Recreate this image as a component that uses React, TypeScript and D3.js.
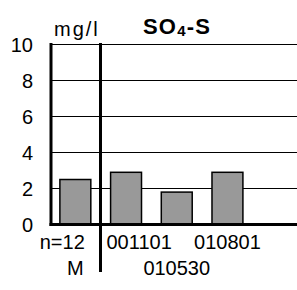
import React from "react";
import * as d3 from "d3";

// values
const categories = ["M", "001101", "010530", "010801", ""];
const values = [2.5, 2.9, 1.8, 2.9];
const labelsTop = ["n=12", "001101", "", "010801"];
const labelsBottom = ["M", "", "010530", ""];
const yTicks = [0, 2, 4, 6, 8, 10];

const W = 297;
const H = 290;

const App = () => {
  const y = d3.scaleLinear().domain([0, 10]).range([224.5, 44.5]);
  const x = d3
    .scaleBand<string>()
    .domain(categories)
    .range([50, 303.5])
    .paddingInner(0.39)
    .paddingOuter(0.195);

  const axisX = 51;
  const dividerX = 100.5;
  const font = "'Liberation Sans', Arial, sans-serif";

  const labelPos = (i: number) => {
    const c = (x(categories[i]) as number) + x.bandwidth() / 2;
    if (i === 0) return { x: (x(categories[i]) as number) + x.bandwidth() - 6, anchor: "end" };
    if (c - 34 < dividerX + 6) return { x: dividerX + 6, anchor: "start" };
    return { x: c, anchor: "middle" };
  };

  return (
    <svg
      width={W}
      height={H}
      style={{ position: "absolute", left: 0, top: 0, background: "#fff" }}
      fontFamily={font}
    >
      {/* grid */}
      {yTicks
        .filter((t) => t > 0)
        .map((t) => (
          <line key={t} x1={axisX} x2={W} y1={y(t)} y2={y(t)} stroke="#000" strokeWidth={1} />
        ))}
      {/* y tick labels */}
      {yTicks.map((t) => (
        <text key={t} x={33} y={y(t)} dy="0.36em" textAnchor="end" fontSize={20} fill="#000">
          {t}
        </text>
      ))}
      {/* bars */}
      {values.map((v, i) => (
        <rect
          key={i}
          x={x(categories[i])}
          y={y(v)}
          width={x.bandwidth()}
          height={y(0) - y(v)}
          fill="#999999"
          stroke="#000"
          strokeWidth={1.5}
        />
      ))}
      {/* axes */}
      <line x1={axisX} x2={axisX} y1={43} y2={226} stroke="#000" strokeWidth={3} />
      <line x1={axisX - 1.5} x2={W} y1={y(0)} y2={y(0)} stroke="#000" strokeWidth={3} />
      <line x1={dividerX} x2={dividerX} y1={43} y2={272} stroke="#000" strokeWidth={3} />
      {/* x labels */}
      {labelsTop.map((l, i) => {
        const p = labelPos(i);
        return (
          <text key={"t" + i} x={p.x} y={248.5} textAnchor={p.anchor} fontSize={20}>
            {l}
          </text>
        );
      })}
      {labelsBottom.map((l, i) => {
        const c = (x(categories[i]) as number) + x.bandwidth() / 2;
        return (
          <text key={"b" + i} x={c} y={275} textAnchor="middle" fontSize={20}>
            {l}
          </text>
        );
      })}
      {/* unit and title */}
      <text x={54} y={36} fontSize={20} letterSpacing={2}>
        mg/l
      </text>
      <text x={143} y={33.5} fontSize={22} fontWeight="bold" letterSpacing={1.2}>
        SO
        <tspan fontSize={15} dy={2}>4</tspan>
        <tspan dy={-2}>-S</tspan>
      </text>
    </svg>
  );
};

export default App;
